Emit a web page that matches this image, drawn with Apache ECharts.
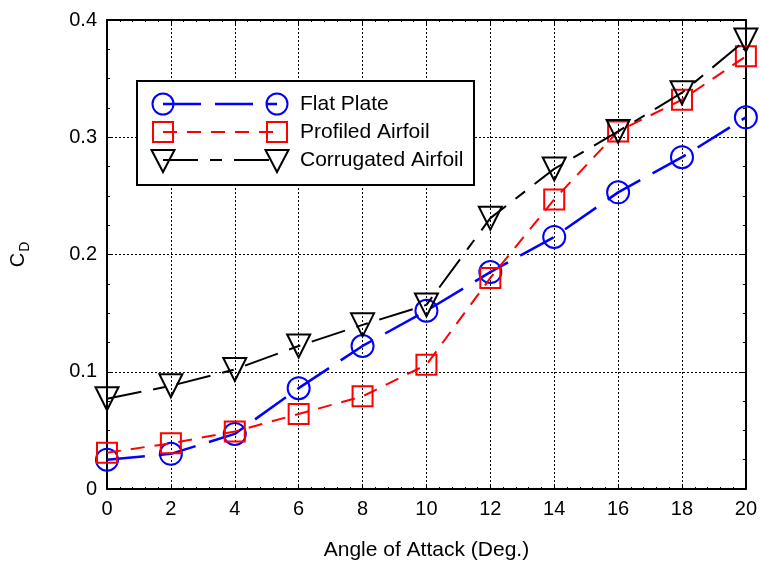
<!DOCTYPE html>
<html>
<head>
<meta charset="utf-8">
<script src="https://cdn.jsdelivr.net/npm/echarts@6/dist/echarts.min.js"></script>
<style>
  html, body { margin: 0; padding: 0; background: #fff; }
  #chart { width: 760px; height: 570px; }
</style>
</head>
<body>
<div id="chart"></div>
<script>
// Drag coefficient versus angle of attack for three wing sections
const angles = [0, 2, 4, 6, 8, 10, 12, 14, 16, 18, 20];
const flatPlate = [0.025, 0.030, 0.047, 0.086, 0.122, 0.152, 0.185, 0.215, 0.253, 0.283, 0.317];
const profiledAirfoil = [0.031, 0.039, 0.049, 0.064, 0.079, 0.106, 0.180, 0.247, 0.305, 0.332, 0.369];
const corrugatedAirfoil = [0.077, 0.088, 0.102, 0.122, 0.140, 0.157, 0.231, 0.273, 0.305, 0.338, 0.383];
const seriesNames = ['Flat Plate', 'Profiled Airfoil', 'Corrugated Airfoil'];
const xTicks = [0, 2, 4, 6, 8, 10, 12, 14, 16, 18, 20];
const yTicks = [0, 0.1, 0.2, 0.3, 0.4];

const FONT = 'Liberation Sans, Arial, Helvetica, sans-serif';

const styles = [
  { color: '#0000ff', symbol: 'circle', size: 22, rotate: 0, dash: [38, 14], width: 2.5 },
  { color: '#ff0000', symbol: 'rect', size: 20, rotate: 0, dash: [14, 10], width: 2 },
  { color: '#000000', symbol: 'triangle', size: 23, rotate: 180, dash: [35, 12, 12, 12], width: 2 }
];
const values = [flatPlate, profiledAirfoil, corrugatedAirfoil];

const chart = echarts.init(document.getElementById('chart'), null, { renderer: 'canvas' });

const series = values.map((vals, i) => ({
  name: seriesNames[i],
  type: 'line',
  data: angles.map((a, j) => [a, vals[j]]),
  symbol: styles[i].symbol,
  symbolSize: styles[i].size,
  symbolRotate: styles[i].rotate,
  showAllSymbol: true,
  animation: false,
  lineStyle: { color: styles[i].color, width: styles[i].width, type: styles[i].dash },
  itemStyle: { color: 'rgba(0,0,0,0)', borderColor: styles[i].color, borderWidth: 2 },
  emphasis: { disabled: true },
  z: 3 + i
}));

// Legend drawn with markers at both ends of each sample line
const legendLeft = 137, legendTop = 81, legendW = 337, legendH = 104;
const rowY = [104, 132, 160];
const lineX0 = 163, lineX1 = 277;
function markerShape(i, cx, cy) {
  const s = styles[i];
  const st = { fill: 'none', stroke: s.color, lineWidth: 2 };
  if (s.symbol === 'circle') return { type: 'circle', shape: { cx, cy, r: 10.5 }, style: st, z: 102 };
  if (s.symbol === 'rect') return { type: 'rect', shape: { x: cx - 10, y: cy - 10, width: 20, height: 20 }, style: st, z: 102 };
  return { type: 'polygon', shape: { points: [[cx - 11.5, cy - 10], [cx + 11.5, cy - 10], [cx, cy + 12]] }, style: st, z: 102 };
}
const legendEls = [{
  type: 'rect',
  shape: { x: legendLeft, y: legendTop, width: legendW, height: legendH },
  style: { fill: '#fff', stroke: '#000', lineWidth: 2 },
  z: 100
}];
seriesNames.forEach((name, i) => {
  const y = rowY[i];
  legendEls.push({
    type: 'line',
    shape: { x1: lineX0, y1: y, x2: lineX1, y2: y },
    style: { stroke: styles[i].color, lineWidth: styles[i].width, lineDash: styles[i].dash },
    z: 101
  });
  legendEls.push(markerShape(i, lineX0, y));
  legendEls.push(markerShape(i, lineX1, y));
  legendEls.push({
    type: 'text',
    x: 300, y: y,
    style: { text: name, font: '21px ' + FONT, fill: '#000', verticalAlign: 'middle', align: 'left' },
    z: 102
  });
});

const axisCommon = {
  axisLine: { show: true, onZero: false, lineStyle: { color: '#000', width: 2 } },
  axisTick: { show: true, inside: true, length: 5, lineStyle: { color: '#000', width: 1 } }
};

const option = {
  backgroundColor: '#fff',
  animation: false,
  grid: { left: 107, right: 12, top: 20, bottom: 81, containLabel: false },
  xAxis: [{
    type: 'value', min: xTicks[0], max: xTicks[xTicks.length - 1], interval: 2,
    name: 'Angle of Attack (Deg.)', nameLocation: 'middle', nameGap: 51,
    nameTextStyle: { fontFamily: FONT, fontSize: 21, color: '#000' },
    ...axisCommon,
    minorTick: { show: true, splitNumber: 5, length: 2, lineStyle: { color: '#000' } },
    axisLabel: { fontFamily: FONT, fontSize: 20, color: '#000', margin: 10 },
    splitLine: { show: true, lineStyle: { color: '#000', width: 1, type: [2, 2] } }
  }, {
    type: 'value', position: 'top', min: xTicks[0], max: xTicks[xTicks.length - 1], interval: 2,
    ...axisCommon,
    minorTick: { show: true, splitNumber: 5, length: 2, lineStyle: { color: '#000' } },
    axisLabel: { show: false }, splitLine: { show: false }
  }],
  yAxis: [{
    type: 'value', min: yTicks[0], max: yTicks[yTicks.length - 1], interval: 0.1,
    name: '{c|C}{d|D}', nameLocation: 'middle', nameGap: 75, nameRotate: 90,
    nameTextStyle: {
      color: '#000',
      rich: {
        c: { fontFamily: FONT, fontSize: 20, color: '#000', lineHeight: 24 },
        d: { fontFamily: FONT, fontSize: 14, color: '#000', padding: [14, 0, 0, 1] }
      }
    },
    ...axisCommon,
    minorTick: { show: true, splitNumber: 4, length: 3, lineStyle: { color: '#000' } },
    axisLabel: { fontFamily: FONT, fontSize: 20, color: '#000', margin: 10 },
    splitLine: { show: true, lineStyle: { color: '#000', width: 1, type: [2, 2] } }
  }, {
    type: 'value', position: 'right', min: yTicks[0], max: yTicks[yTicks.length - 1], interval: 0.1,
    ...axisCommon,
    minorTick: { show: true, splitNumber: 4, length: 3, lineStyle: { color: '#000' } },
    axisLabel: { show: false }, splitLine: { show: false }
  }],
  series: series,
  graphic: legendEls
};

chart.setOption(option);
</script>
</body>
</html>
